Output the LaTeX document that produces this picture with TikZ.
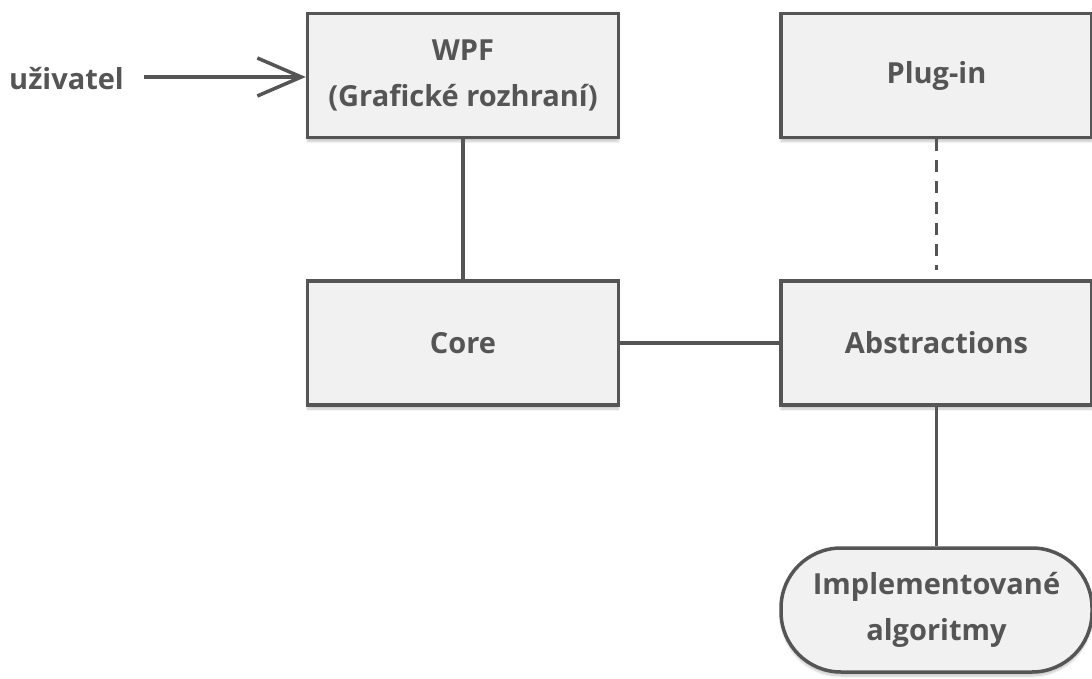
\documentclass[tikz,border=0pt]{standalone}
\usepackage{fontspec}
\setmainfont{Open Sans}
\usepackage{tikz}
\usetikzlibrary{arrows.meta, positioning, shadows.blur}
\definecolor{linegrey}{RGB}{85, 85, 85}
\definecolor{boxfill}{RGB}{241, 241, 241}

\begin{document}
\begin{tikzpicture}[x=1pt, y=-1pt, font=\fontsize{29}{46}\selectfont\bfseries, text=linegrey,
   box/.style={draw=linegrey, line width=3.5pt, fill=boxfill, minimum width=311pt, minimum height=124pt,
     align=center, blur shadow={shadow blur steps=8, shadow xshift=0pt, shadow yshift=-4pt, shadow opacity=22}},
   term/.style={box, rounded corners=60pt},
   link/.style={draw=linegrey, line width=3.5pt}]
  \useasboundingbox (0,0) rectangle (1092,679);
  \node[box] (wpf) at (463,75.5) {WPF\\(Grafické rozhraní)};
  \node[box] (plugin) at (936.5,75.5) {Plug-in};
  \node[box] (core) at (463,343) {Core};
  \node[box] (abstr) at (936.5,343) {Abstractions};
  \node[term] (impl) at (936.5,610) {Implementované\\algoritmy};
  \node[anchor=west, inner sep=0pt] (user) at (9,79) {uživatel};
  \draw[link, -{Straight Barb[length=44pt, width=38pt, line width=3.5pt]}] (user.east) ++(20,-2) coordinate (ustart) (ustart) -- (wpf.west |- ustart);
  \draw[link] (wpf) -- (core);
  \draw[link] (core) -- (abstr);
  \draw[link] (abstr) -- (impl);
  \draw[link, dash pattern=on 12pt off 9pt] (plugin.south) -- ([yshift=9pt]abstr.north);
\end{tikzpicture}
\end{document}
